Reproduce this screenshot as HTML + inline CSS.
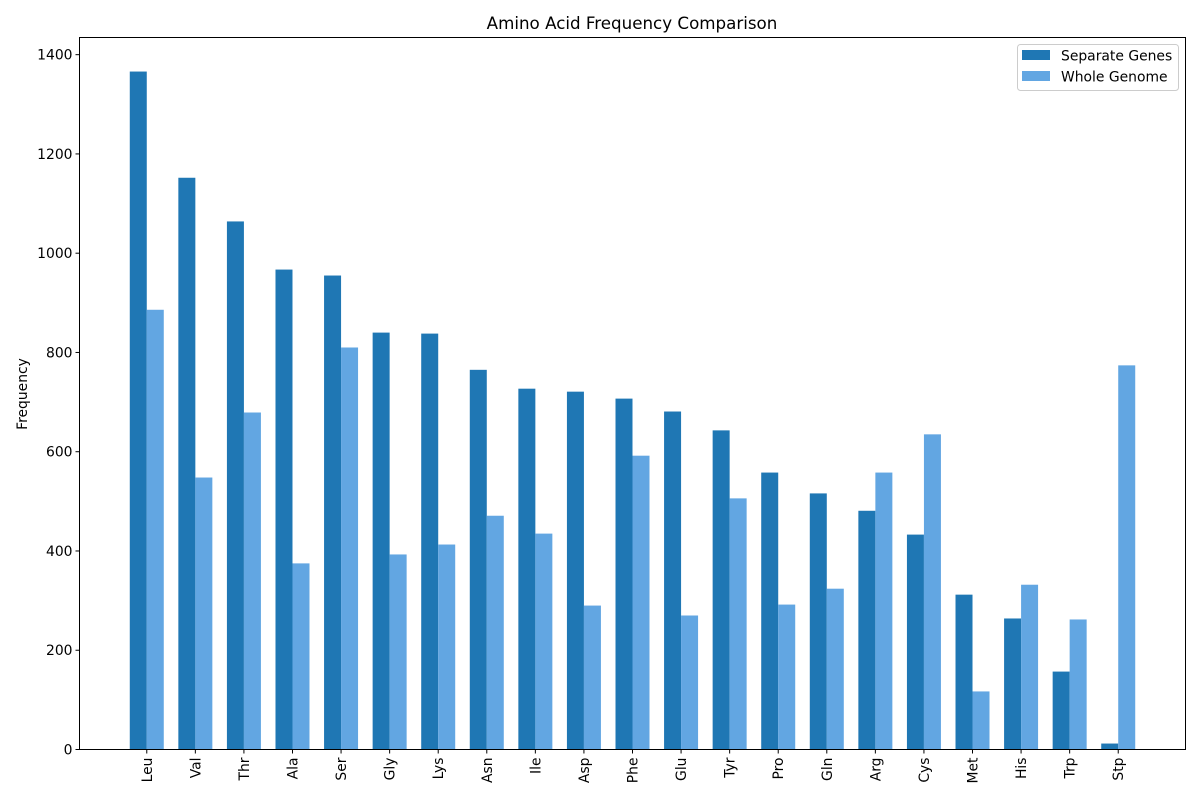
<!DOCTYPE html>
<html><head><meta charset="utf-8"><style>
body{margin:0;background:#fff}
svg text{font-family:"DejaVu Sans","Liberation Sans",sans-serif;fill:#000}
</style></head><body>
<svg id="chart" width="1200" height="800">
<text x="632" y="29" font-size="16.7" text-anchor="middle">Amino Acid Frequency Comparison</text>
<g id="bars"></g><g id="axes"></g>
<rect x="79.5" y="37.5" width="1106" height="712" fill="none" stroke="#000" stroke-width="1"/>
<text transform="translate(27,394) rotate(-90)" font-size="13.9" text-anchor="middle">Frequency</text>
<g>
<rect x="1017.5" y="44.5" width="161" height="46" rx="3" fill="#fff" stroke="#ccc"/>
<rect x="1022" y="50" width="28" height="10" fill="#1f77b4"/>
<text x="1061" y="60.5" font-size="13.9">Separate Genes</text>
<rect x="1022" y="71" width="28" height="10" fill="#62a6e2"/>
<text x="1061" y="81.5" font-size="13.9">Whole Genome</text>
</g>
</svg>
<script>
const categories=["Leu","Val","Thr","Ala","Ser","Gly","Lys","Asn","Ile","Asp","Phe","Glu","Tyr","Pro","Gln","Arg","Cys","Met","His","Trp","Stp"];
const separateGenes=[1366,1152,1064,967,955,840,838,765,727,721,707,681,643,558,516,481,433,312,264,157,12];
const wholeGenome=[886,548,679,375,810,393,413,471,435,290,592,270,506,292,324,558,635,117,332,262,774];
const yTicks=[0,200,400,600,800,1000,1200,1400];
const NS="http://www.w3.org/2000/svg";
const L=79.5,R=1185.5,T=37.5,B=749.5;
const n=categories.length;
const xmin=-0.35-0.05*(n-1+0.7),xmax=n-1+0.35+0.05*(n-1+0.7);
const x=v=>L+(v-xmin)/(xmax-xmin)*(R-L);
const y=v=>B-v/1434.6*(B-T);
const bw=0.35;
const bars=document.getElementById('bars'),axes=document.getElementById('axes');
function mk(t,a,p){const e=document.createElementNS(NS,t);for(const k in a)e.setAttribute(k,a[k]);p.appendChild(e);return e;}
categories.forEach((c,i)=>{
  const r1=mk('rect',{x:x(i-bw),y:y(separateGenes[i]),width:x(i)-x(i-bw),height:B-y(separateGenes[i]),fill:'#1f77b4'},bars);
  
  
  const r2=mk('rect',{x:x(i),y:y(wholeGenome[i]),width:x(i+bw)-x(i),height:B-y(wholeGenome[i]),fill:'#62a6e2'},bars);
  
  
  mk('line',{x1:x(i),x2:x(i),y1:B,y2:B+4,stroke:'#000'},axes);
  const t=mk('text',{transform:`translate(${x(i)+5},${B+8}) rotate(-90)`,'font-size':13.9,'text-anchor':'end'},axes);
  t.textContent=c;
  
  
});
yTicks.forEach(v=>{
  mk('line',{x1:L-4,x2:L,y1:y(v),y2:y(v),stroke:'#000'},axes);
  const t=mk('text',{x:L-7,y:y(v)+5,'font-size':13.9,'text-anchor':'end'},axes);
  t.textContent=v;
  
  
});
</script>
</body></html>
